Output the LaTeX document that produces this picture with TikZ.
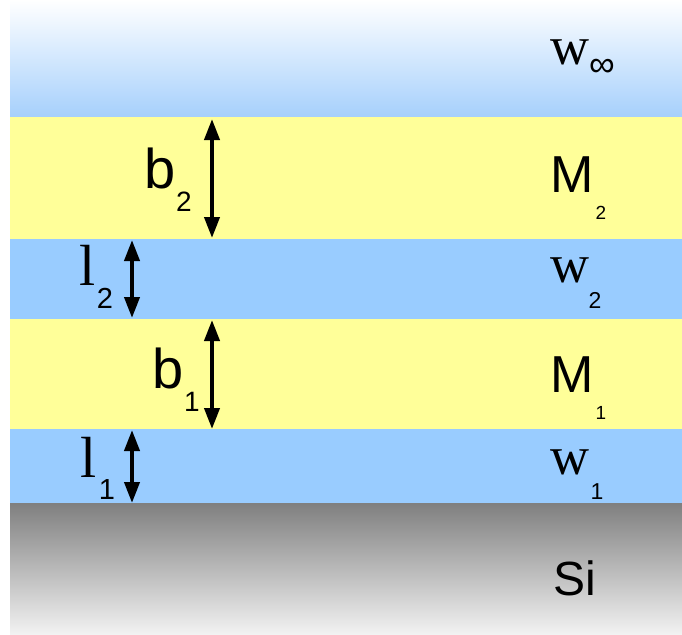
\documentclass[tikz,border=0pt]{standalone}
\usepackage{fontspec}
\setmainfont{Liberation Sans}
\newfontfamily\seriffont{Liberation Serif}
\usetikzlibrary{arrows.meta}
\definecolor{layeryellow}{HTML}{FFFF99}
\definecolor{layerblue}{HTML}{99CCFF}
\definecolor{skyblue}{HTML}{A6D0FC}
\definecolor{siliconfade}{HTML}{F2F2F2}
\tikzset{
  lbl/.style={inner sep=0pt,anchor=center},
  dimarrow/.style={line width=2pt,{Triangle[length=10.5pt,width=7.5pt]}-{Triangle[length=10.5pt,width=7.5pt]}}
}

\begin{document}
\begin{tikzpicture}[x=0.5pt,y=-0.5pt]
\useasboundingbox (0,0) rectangle (682,634);
% ---------- layers ----------
\shade[top color=white,bottom color=skyblue] (10,0) rectangle (682,117);
\fill[layeryellow] (10,117) rectangle (682,239);
\fill[layerblue] (10,239) rectangle (682,319);
\fill[layeryellow] (10,319) rectangle (682,429);
\fill[layerblue] (10,429) rectangle (682,503);
\shade[top color=gray,bottom color=siliconfade] (10,503) rectangle (682,634);
% ---------- right labels ----------
\node[lbl] (winf) at (570,52) {\fontsize{27}{30}\selectfont\seriffont w};
\node[lbl] (winfsub) at (602,68) {\fontsize{18}{20}\selectfont ∞};
\node[lbl] (mtwo) at (572,175) {\fontsize{26}{30}\selectfont M};
\node[lbl] (mtwosub) at (601,213) {\fontsize{9.5}{11}\selectfont 2};
\node[lbl] (wtwo) at (570,270) {\fontsize{27}{30}\selectfont\seriffont w};
\node[lbl] (wtwosub) at (595,300) {\fontsize{11.5}{13}\selectfont 2};
\node[lbl] (mone) at (572,375) {\fontsize{26}{30}\selectfont M};
\node[lbl] (monesub) at (601,413) {\fontsize{9.5}{11}\selectfont 1};
\node[lbl] (wone) at (570,462) {\fontsize{27}{30}\selectfont\seriffont w};
\node[lbl] (wonesub) at (597,492) {\fontsize{11.5}{13}\selectfont 1};
\node[lbl] (si) at (575,578) {\fontsize{24}{28}\selectfont Si};
% ---------- left labels ----------
\node[lbl] (btwo) at (160,168) {\fontsize{28}{30}\selectfont b};
\node[lbl] (btwosub) at (184,202) {\fontsize{14}{16}\selectfont 2};
\node[lbl] (ltwo) at (88,265) {\fontsize{29}{30}\selectfont\seriffont l};
\node[lbl] (ltwosub) at (105,298) {\fontsize{14.5}{16}\selectfont 2};
\node[lbl] (bone) at (168,368) {\fontsize{28}{30}\selectfont b};
\node[lbl] (bonesub) at (192,402) {\fontsize{14}{16}\selectfont 1};
\node[lbl] (lone) at (89,457) {\fontsize{29}{30}\selectfont\seriffont l};
\node[lbl] (lonesub) at (107,490) {\fontsize{14.5}{16}\selectfont 1};
% ---------- thickness arrows ----------
\coordinate (btwotop) at (212,119);
\coordinate (btwobot) at (212,238);
\coordinate (ltwotop) at (132,240);
\coordinate (ltwobot) at (132,318);
\coordinate (bonetop) at (212,320);
\coordinate (bonebot) at (212,429);
\coordinate (lonetop) at (132,430);
\coordinate (lonebot) at (132,503);
\draw[dimarrow] (btwotop) -- (btwobot);
\draw[dimarrow] (ltwotop) -- (ltwobot);
\draw[dimarrow] (bonetop) -- (bonebot);
\draw[dimarrow] (lonetop) -- (lonebot);
\end{tikzpicture}
\end{document}
